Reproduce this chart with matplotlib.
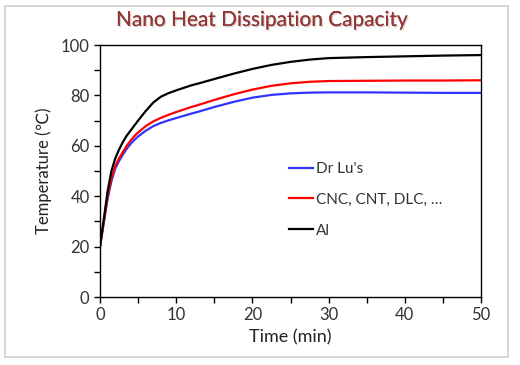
import numpy as np
import matplotlib
matplotlib.use('Agg')
import matplotlib.pyplot as plt
import matplotlib.patheffects as pe
from matplotlib.patches import Rectangle

plt.rcParams['font.family'] = ['Lato', 'DejaVu Sans']

# time (min)
t = [0, 0.5, 1, 1.5, 2, 2.5, 3, 3.5, 4, 4.5, 5, 6, 7, 8, 9, 10, 11, 12, 13, 15,
     17.5, 20, 22.5, 25, 27.5, 30, 35, 40, 45, 50]
# temperatures
al = [20, 31, 42, 50, 55, 58.5, 61.5, 64, 66, 68, 70, 73.8, 77.2, 79.5, 80.9, 82, 83, 84, 84.8, 86.5,
      88.6, 90.5, 92.1, 93.3, 94.2, 94.8, 95.2, 95.5, 95.8, 96]
cnc = [20, 30, 40, 47, 52, 55, 57.5, 60, 62, 63.8, 65.3, 67.8, 69.7, 71.1, 72.3, 73.4, 74.4, 75.4, 76.3, 78.2,
       80.4, 82.3, 83.8, 84.8, 85.4, 85.7, 85.8, 85.9, 85.9, 86]
drlu = [20, 29.5, 39, 46, 51, 54, 56.5, 58.8, 60.7, 62.3, 63.7, 66, 67.8, 69.1, 70.1, 71, 71.9, 72.8, 73.6, 75.4,
        77.4, 79.1, 80.2, 80.8, 81.1, 81.2, 81.2, 81.1, 81, 81]

labels = ["Dr Lu's", "CNC, CNT, DLC, \u2026", "Al"]
colors = ['#3333ff', '#ff0000', '#000000']

fig = plt.figure(figsize=(5.2, 3.65), dpi=100)
fig.patches.append(Rectangle((5 / 520, 1 - 357 / 365), 503 / 520, 351 / 365,
                             transform=fig.transFigure, fill=False,
                             edgecolor='#d0d0d0', linewidth=1.2))

ax = fig.add_axes([100 / 520, 1 - 297 / 365, 381 / 520, 252 / 365])
for y, lab, c in zip([drlu, cnc, al], labels, colors):
    ax.plot(t, y, color=c, linewidth=1.6, label=lab)

ax.set_xlim(0, 50)
ax.set_ylim(0, 100)
ax.set_xticks(np.arange(0, 51, 10))
ax.set_xticks(np.arange(5, 50, 10), minor=True)
ax.set_yticks(np.arange(0, 101, 20))
ax.set_yticks(np.arange(10, 100, 20), minor=True)
ax.tick_params(which='both', direction='out', length=4, width=1, labelsize=12,
               labelcolor='#333333')
for s in ax.spines.values():
    s.set_linewidth(1)

ax.set_xlabel('Time (min)', fontsize=13, color='#222222', labelpad=4)
ax.set_ylabel('Temperature (\u2103)', fontsize=12, color='#222222', labelpad=6)

leg = ax.legend(loc='upper left', bbox_to_anchor=(0.48, 0.56), frameon=False,
                fontsize=11, handlelength=1.6, handletextpad=0.15, labelspacing=1.1,
                borderaxespad=0)
for txt in leg.get_texts():
    txt.set_color('#333333')

fig.text(262 / 520, 1 - 20 / 365, 'Nano Heat Dissipation Capacity', ha='center', va='center',
         fontsize=15, color='#943634',
         path_effects=[pe.withSimplePatchShadow(offset=(1, -1), shadow_rgbFace='#aaaaaa', alpha=0.45),
                       pe.Normal()])

fig.savefig('out.png', dpi=100)
